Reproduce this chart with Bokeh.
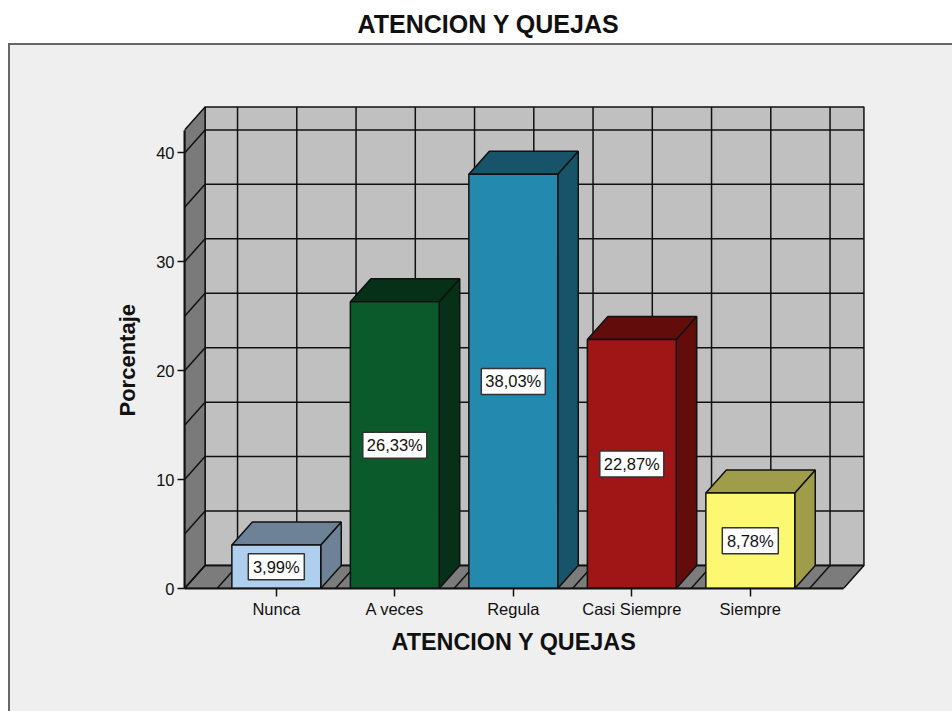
from bokeh.embed import file_html
from bokeh.models import FixedTicker, LinearAxis, Range1d, Title
from bokeh.plotting import figure
from bokeh.resources import INLINE

# Survey results
categories = ["Nunca", "A veces", "Regula", "Casi Siempre", "Siempre"]
percentages = [3.99, 26.33, 38.03, 22.87, 8.78]
value_labels = ["3,99%", "26,33%", "38,03%", "22,87%", "8,78%"]
chart_title = "ATENCION Y QUEJAS"
x_title = "ATENCION Y QUEJAS"
y_title = "Porcentaje"
y_ticks = [0, 10, 20, 30, 40]

# Front face and shaded face of each bar
front_colors = ["#aed0ee", "#0b5a2b", "#2389ae", "#a01515", "#fdf872"]
shade_colors = ["#6d8297", "#063018", "#175469", "#620c0c", "#9f9d4a"]

FONT = "Liberation Sans"
INK = "#111111"
PANEL = "#efefef"
PANEL_EDGE = "#666666"

# Pixel scale of the data axes and the oblique 3D offset, in data units
PX_X, PX_Y = 118.5, 10.89
DX, DY = 20.5 / PX_X, 23 / PX_Y
X0, X1 = -0.774, 4.786
Y_TOP = 42.1
BAR_W = 0.75

# The chart panel sits behind the transparent canvas: top edge, left edge, fill
panel_css = ", ".join([
    f"linear-gradient({PANEL_EDGE},{PANEL_EDGE}) 8px 43px / 944px 2px no-repeat",
    f"linear-gradient({PANEL_EDGE},{PANEL_EDGE}) 8px 43px / 2px 668px no-repeat",
    f"linear-gradient({PANEL},{PANEL}) 8px 43px / 944px 668px no-repeat",
])

p = figure(
    width=952, height=711, frame_width=686, frame_height=488,
    min_border_left=184, min_border_right=82, min_border_top=100, min_border_bottom=123,
    x_range=Range1d(-91.8 / PX_X, 594.2 / PX_X), y_range=Range1d(0, 488 / PX_Y),
    x_axis_type=None, y_axis_type=None,
    output_backend="svg", toolbar_location=None,
    border_fill_color=None, background_fill_color=None, outline_line_color=None,
    styles={"background": panel_css},
)
p.grid.visible = False

# Back wall, side wall and floor of the box
p.quad(left=[X0 + DX], right=[X1 + DX], bottom=[DY], top=[Y_TOP + DY],
       fill_color="#c0c0c0", line_color=INK, line_width=1.5)
p.patch([X0, X0 + DX, X0 + DX, X0], [0, DY, Y_TOP + DY, Y_TOP],
        fill_color="#7a7a7a", line_color=INK, line_width=1.5)
p.patch([X0, X1, X1 + DX, X0 + DX], [0, 0, DY, DY],
        fill_color="#7c7c7c", line_color=INK, line_width=1.5)

# Grid on the walls: every 5 units in y, every half category in x
levels = [v * 5 for v in range(0, 9)]
p.segment(x0=[X0 + DX] * len(levels), x1=[X1 + DX] * len(levels),
          y0=[v + DY for v in levels], y1=[v + DY for v in levels],
          line_color=INK, line_width=1.5)
p.segment(x0=[X0] * len(levels), x1=[X0 + DX] * len(levels),
          y0=levels, y1=[v + DY for v in levels], line_color=INK, line_width=1.5)
stations = [-0.5 + i * 0.5 for i in range(0, 11)]
p.segment(x0=[s + DX for s in stations], x1=[s + DX for s in stations],
          y0=[DY] * len(stations), y1=[Y_TOP + DY] * len(stations),
          line_color=INK, line_width=1.5)
p.segment(x0=stations, x1=[s + DX for s in stations],
          y0=[0] * len(stations), y1=[DY] * len(stations),
          line_color=INK, line_width=1.5)

# Oblique bars
for i, (val, front, shade) in enumerate(zip(percentages, front_colors, shade_colors)):
    l, r = i - BAR_W / 2, i + BAR_W / 2
    p.patch([r, r + DX, r + DX, r], [0, DY, val + DY, val],
            fill_color=shade, line_color=INK, line_width=1.5)
    p.patch([l, r, r + DX, l + DX], [val, val, val + DY, val + DY],
            fill_color=shade, line_color=INK, line_width=1.5)
    p.quad(left=[l], right=[r], bottom=[0], top=[val],
           fill_color=front, line_color=INK, line_width=1.5)

# Value labels in white boxes at mid height of each bar
mid_x = list(range(len(categories)))
mid_y = [v / 2 for v in percentages]
p.rect(x=mid_x, y=mid_y, width=[len(s) * 8 + 16 for s in value_labels], height=26,
       width_units="screen", height_units="screen",
       fill_color="white", line_color="#333333", line_width=1.5)
p.text(x=mid_x, y=mid_y, text=value_labels, text_align="center", text_baseline="middle",
       text_font={"value": FONT}, text_font_size="16.5px", text_color="#111111")

# Axes
yaxis = LinearAxis(ticker=FixedTicker(ticks=y_ticks), bounds=(0, Y_TOP))
xaxis = LinearAxis(ticker=FixedTicker(ticks=mid_x), bounds=(X0, X1),
                   major_label_overrides={i: c for i, c in enumerate(categories)})
for axis in (xaxis, yaxis):
    axis.axis_line_color = INK
    axis.axis_line_width = 2
    axis.major_tick_line_color = INK
    axis.major_tick_line_width = 1.5
    axis.major_tick_in = 0
    axis.minor_tick_line_color = None
    axis.major_label_text_font = FONT
    axis.major_label_text_font_size = "16.5px"
    axis.major_label_text_color = "#111111"
yaxis.major_tick_out = 7
yaxis.major_label_standoff = 3
xaxis.major_tick_out = 8
xaxis.major_label_standoff = 3
p.add_layout(yaxis, "left")
p.add_layout(xaxis, "below")

# Chart title, lifted clear of the frame by a blank spacer title, and axis titles
p.title = None
p.add_layout(Title(text=" ", standoff=50, text_font=FONT, text_font_size="10px"), "above")
p.add_layout(Title(text=chart_title, align="left", offset=173, standoff=0,
                   text_font=FONT, text_font_size="25px", text_font_style="bold", text_color="#111111"), "above")
p.add_layout(Title(text=x_title, align="left", offset=207, standoff=12,
                   text_font=FONT, text_font_size="23.4px", text_font_style="bold", text_color="#111111"), "below")
p.add_layout(Title(text=y_title, align="left", offset=172, standoff=28,
                   text_font=FONT, text_font_size="22px", text_font_style="bold", text_color="#111111"), "left")

open("out.html", "w").write(file_html(p, INLINE))
